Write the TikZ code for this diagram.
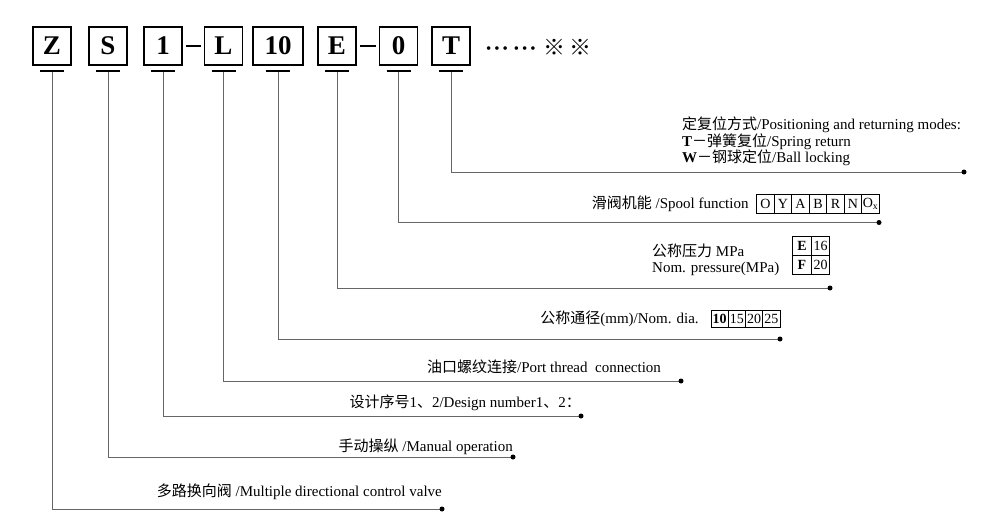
\documentclass[tikz,border=0pt]{standalone}
\usepackage{fontspec}
\setmainfont{Liberation Serif}
\newfontfamily\zhfont{Noto Sans CJK SC}
\newcommand{\zh}[1]{{\zhfont #1}}
\usetikzlibrary{positioning,calc}

\begin{document}
\begin{tikzpicture}[x=1pt,y=-1pt,
  code/.style={draw, line width=1.7pt, minimum width=38pt, minimum height=38pt, inner sep=0pt, outer sep=0pt, font=\fontsize{27}{27}\selectfont\bfseries},
  bar/.style={line width=2pt},
  dashline/.style={line width=2pt, shorten <=4pt, shorten >=4pt},
  conn/.style={draw=black!60, line width=1pt},
  lbl/.style={font=\fontsize{15}{16.5}\selectfont, inner sep=0pt, align=left},
  cell/.style={draw, line width=0.6pt, minimum width=17.5pt, minimum height=19pt, inner sep=0pt, outer sep=0pt, font=\fontsize{14}{14}\selectfont},
  dot/.style={fill=black},
]
  \useasboundingbox (0,0) rectangle (982,524);

  % code boxes
  \node[code] (Z)   at (52,46)    {Z};
  \node[code] (S)   at (108,46)   {S};
  \node[code] (one) at (163,46)   {1};
  \node[code] (L)   at (223.5,46) {L};
  \node[code, minimum width=50pt] (ten) at (278,46) {10};
  \node[code] (E)   at (337,46)   {E};
  \node[code] (zero) at (398.5,46) {0};
  \node[code] (T)   at (451,46)   {T};
  \node[anchor=west, inner sep=0pt] (etc) at (486,47)
    {\raisebox{1.5pt}{\fontsize{15}{15}\selectfont •\kern3pt•\kern3pt•\kern6pt•\kern3pt•\kern3pt•}\kern8pt{\zhfont\fontsize{22}{22}\selectfont ※\kern4pt※}};

  \draw[dashline] (one) -- (L);
  \draw[dashline] (E) -- (zero);

  % line ends
  \coordinate (endT)    at (964,172);
  \coordinate (endzero) at (879,222.5);
  \coordinate (endE)    at (830,288);
  \coordinate (endten)  at (780,339);
  \coordinate (endL)    at (681,381);
  \coordinate (endone)  at (581,416);
  \coordinate (endS)    at (513,457);
  \coordinate (endZ)    at (442,509);

  % connectors
  \foreach \n in {Z,S,one,L,ten,E,zero,T}{
    \draw[conn] ([yshift=-6pt]\n.south) |- (end\n);
    \draw[bar] ([xshift=-12pt,yshift=-6pt]\n.south) -- ([xshift=12pt,yshift=-6pt]\n.south);
    \fill[dot] (end\n) circle (2.5pt);
  }

  % T: positioning and returning
  \node[lbl, anchor=west] (modes) at (682,141.5)
    {\zh{定复位方式}/Positioning and returning modes:\\
     \textbf{T}\zh{－弹簧复位}/Spring return\\
     \textbf{W}\zh{－钢球定位}/Ball locking};

  % 0: spool function
  \node[cell] (sO) at (765.5,203.5) {O};
  \node[cell, right=0pt of sO] (sY) {Y};
  \node[cell, right=0pt of sY] (sA) {A};
  \node[cell, right=0pt of sA] (sB) {B};
  \node[cell, right=0pt of sB] (sR) {R};
  \node[cell, right=0pt of sR] (sN) {N};
  \node[cell, right=0pt of sN] (sOx) {O\textsubscript{x}};
  \node[lbl, left=8pt of sO] (spool) {\zh{滑阀机能} /Spool function};

  % E: pressure
  \node[cell, minimum width=18.5pt, font=\fontsize{14}{14}\selectfont\bfseries] (pE) at (802,246) {E};
  \node[cell, minimum width=18.5pt, right=0pt of pE] (p16) {16};
  \node[cell, minimum width=18.5pt, below=0pt of pE, font=\fontsize{14}{14}\selectfont\bfseries] (pF) {F};
  \node[cell, minimum width=18.5pt, right=0pt of pF] (p20) {20};
  \node[lbl, anchor=west] (press) at (652,260)
    {\zh{公称压力} MPa\\ Nom. pressure(MPa)};

  % 10: nominal diameter
  \node[cell, minimum width=17.3pt, minimum height=17pt, font=\fontsize{14}{14}\selectfont\bfseries] (d10) at (719.5,318.5) {10};
  \node[cell, minimum width=17.3pt, minimum height=17pt, right=0pt of d10] (d15) {15};
  \node[cell, minimum width=17.3pt, minimum height=17pt, right=0pt of d15] (d20) {20};
  \node[cell, minimum width=17.3pt, minimum height=17pt, right=0pt of d20] (d25) {25};
  \node[lbl, left=12pt of d10] (dia) {\zh{公称通径}(mm)/Nom. dia.};

  % remaining labels
  \node[lbl, anchor=west] (port)   at (427,367)   {\zh{油口螺纹连接}/Port thread~~connection};
  \node[lbl, anchor=east] (design) at (581,403)   {\zh{设计序号}1\zh{、}2/Design number1\zh{、}2\zh{：}};
  \node[lbl, anchor=east] (manual) at (513,447)   {\zh{手动操纵} /Manual operation};
  \node[lbl, anchor=east] (multi)  at (442,491.5) {\zh{多路换向阀} /Multiple directional control valve};
\end{tikzpicture}
\end{document}
